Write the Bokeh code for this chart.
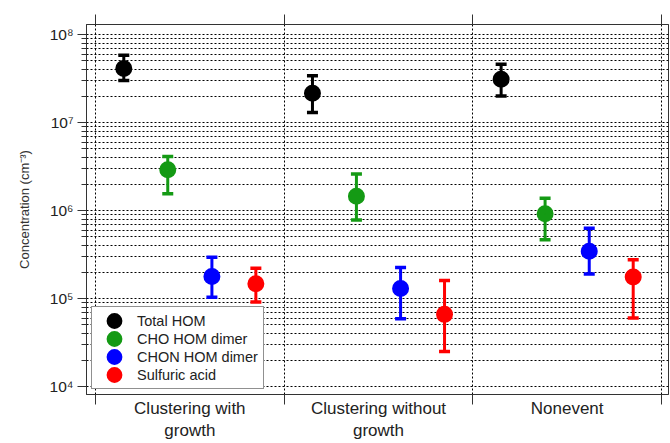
from bokeh.plotting import figure
from bokeh.models import FixedTicker, ColumnDataSource, Legend, LegendItem, LinearAxis
from bokeh.transform import dodge
from bokeh.embed import file_html
from bokeh.resources import INLINE

# ---------------- data ----------------
categories = ["Clustering with\ngrowth", "Clustering without\ngrowth", "Nonevent"]
series_names = ["Total HOM", "CHO HOM dimer", "CHON HOM dimer", "Sulfuric acid"]

total_hom_mid = [4.1e7, 2.15e7, 3.1e7]
total_hom_low = [3.0e7, 1.3e7, 2.0e7]
total_hom_high = [5.8e7, 3.4e7, 4.6e7]

cho_dimer_mid = [2.9e6, 1.45e6, 9.2e5]
cho_dimer_low = [1.55e6, 7.8e5, 4.65e5]
cho_dimer_high = [4.1e6, 2.6e6, 1.38e6]

chon_dimer_mid = [1.78e5, 1.3e5, 3.45e5]
chon_dimer_low = [1.03e5, 5.9e4, 1.9e5]
chon_dimer_high = [2.95e5, 2.25e5, 6.3e5]

sulfuric_mid = [1.47e5, 6.6e4, 1.75e5]
sulfuric_low = [9.1e4, 2.5e4, 6.0e4]
sulfuric_high = [2.2e5, 1.6e5, 2.75e5]

y_tick_values = [1e4, 1e5, 1e6, 1e7, 1e8]
y_tick_labels = ["10\u2074", "10\u2075", "10\u2076", "10\u2077", "10\u2078"]
y_axis_title = "Concentration (cm\u207b\u00b3)"

# ---------------- style ----------------
colors = ["#000000", "#149a14", "#0000ff", "#ff0000"]
offsets = [-0.35, -0.117, 0.117, 0.35]
FONT = "Liberation Sans"
TXT = "#222222"

series = [
    (total_hom_mid, total_hom_low, total_hom_high),
    (cho_dimer_mid, cho_dimer_low, cho_dimer_high),
    (chon_dimer_mid, chon_dimer_low, chon_dimer_high),
    (sulfuric_mid, sulfuric_low, sulfuric_high),
]

centers = [i + 0.5 for i in range(len(categories))]
bounds = [float(i) for i in range(len(categories) + 1)]

p = figure(width=670, height=443,
           x_range=(-0.0477, 3.0371), y_range=(10 ** 3.909, 10 ** 8.1136),
           y_axis_type="log", output_backend="svg", toolbar_location=None,
           min_border_left=86, min_border_right=2, min_border_top=24,
           min_border_bottom=49)
p.background_fill_color = "white"
p.border_fill_color = "white"
p.outline_line_color = "#333333"
p.outline_line_width = 1

# x axis (bottom): labels centred in each category, tick marks at boundaries
xa = p.xaxis[0]
xa.ticker = FixedTicker(ticks=centers, minor_ticks=bounds)
xa.major_label_overrides = {c: lab for c, lab in zip(centers, categories)}
xa.major_tick_out = 0
xa.major_tick_in = 0
xa.minor_tick_out = 10
xa.minor_tick_in = 0
xa.minor_tick_line_color = "#333333"
xa.axis_line_color = "#333333"
xa.major_label_text_font = FONT
xa.major_label_text_font_size = "17px"
xa.major_label_text_color = TXT
xa.major_label_standoff = -6

# top axis: ticks only
ta = LinearAxis(ticker=FixedTicker(ticks=bounds), major_tick_out=10, major_tick_in=0,
                minor_tick_out=0, minor_tick_in=0, major_label_text_font_size="0px",
                major_label_standoff=0, axis_line_color="#333333",
                major_tick_line_color="#333333")
ta.major_label_overrides = {b: "" for b in bounds}
p.add_layout(ta, "above")

# y axis
minor_y = [k * 10 ** e for e in range(4, 8) for k in range(2, 10)]
ya = p.yaxis[0]
ya.ticker = FixedTicker(ticks=y_tick_values, minor_ticks=minor_y)
ya.major_label_overrides = {v: lab for v, lab in zip(y_tick_values, y_tick_labels)}
ya.major_tick_out = 9
ya.major_tick_in = 0
ya.minor_tick_out = 5
ya.minor_tick_in = 0
ya.major_tick_line_color = "#333333"
ya.minor_tick_line_color = "#333333"
ya.axis_line_color = "#333333"
ya.major_label_text_font = FONT
ya.major_label_text_font_size = "15.5px"
ya.major_label_text_color = TXT
ya.major_label_standoff = 4
ya.axis_label = y_axis_title
ya.axis_label_text_font = FONT
ya.axis_label_text_font_size = "13px"
ya.axis_label_text_font_style = "normal"
ya.axis_label_text_color = "#333333"
ya.axis_label_standoff = 15

# grids
p.xgrid.ticker = FixedTicker(ticks=bounds)
p.xgrid.grid_line_color = "black"
p.xgrid.grid_line_dash = "2 2"
p.xgrid.grid_line_width = 1
p.ygrid.grid_line_color = "black"
p.ygrid.grid_line_dash = "2 2"
p.ygrid.minor_grid_line_color = "black"
p.ygrid.minor_grid_line_dash = "2 2"

# data
items = []
for name, (mid, low, high), color, off in zip(series_names, series, colors, offsets):
    src = ColumnDataSource(dict(center=centers, mid=mid, low=low, high=high))
    xx = dodge("center", off)
    p.segment(x0=xx, y0="low", x1=xx, y1="high", source=src,
              line_color=color, line_width=3)
    p.scatter(x=xx, y="low", source=src, marker="dash", size=11,
              line_color=color, line_width=3.5)
    p.scatter(x=xx, y="high", source=src, marker="dash", size=11,
              line_color=color, line_width=3.5)
    r = p.scatter(x=xx, y="mid", source=src, marker="circle", size=8,
                  fill_color=color, line_color=color, line_width=9)
    items.append(LegendItem(label=name, renderers=[r]))

legend = Legend(items=items, location="bottom_left", margin=5, padding=5,
                spacing=1, glyph_height=17, glyph_width=34, label_height=17,
                label_standoff=6, label_text_font=FONT,
                label_text_font_size="14.5px", label_text_color=TXT,
                border_line_color="#222222", border_line_width=1,
                background_fill_color="white", background_fill_alpha=1)
p.add_layout(legend, "center")

open("out.html", "w").write(file_html(p, INLINE))
